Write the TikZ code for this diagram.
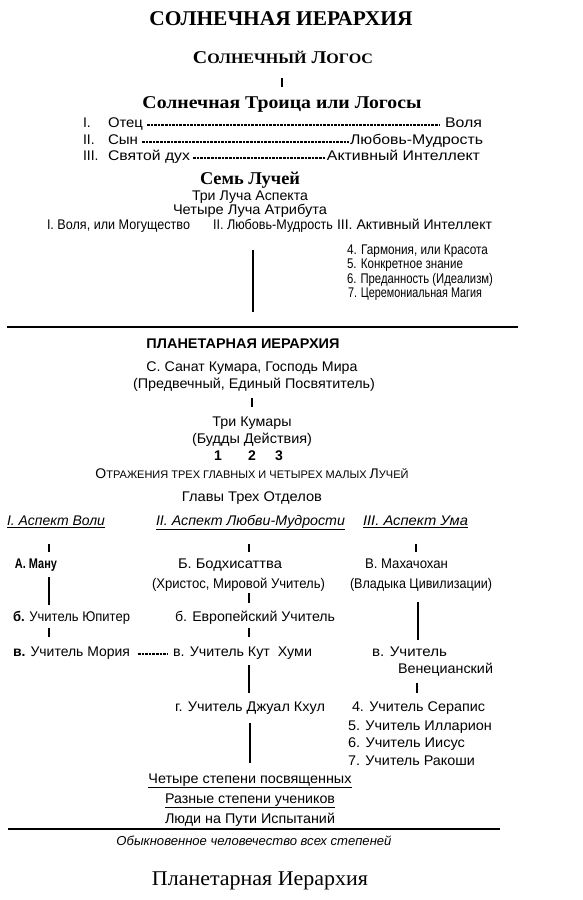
\documentclass[tikz,border=0pt]{standalone}
\usepackage{fontspec}
\usepackage{graphicx}
\setmainfont{Liberation Serif}
\setsansfont{Liberation Sans}
\newcommand{\fw}[2]{\resizebox{#1pt}{\height}{#2}}
\newcommand{\bigsc}{\fontsize{18}{20}\selectfont}
\newcommand{\smsc}{\fontsize{14.5}{16}\selectfont}
\newcommand{\bigsn}{\fontsize{14}{16}\selectfont}
\newcommand{\smsn}{\fontsize{11}{13}\selectfont}
\begin{document}
\begin{tikzpicture}[x=1pt,y=-1pt,
  every node/.style={inner sep=0pt, outer sep=0pt},
  sans/.style={font=\sffamily\fontsize{14}{16}\selectfont},
  sansb/.style={font=\sffamily\bfseries\fontsize{14}{16}\selectfont},
  sansi/.style={font=\sffamily\itshape\fontsize{14}{16}\selectfont},
  serifb/.style={font=\rmfamily\bfseries\fontsize{18}{20}\selectfont},
  vline/.style={line width=1.4pt},
  hrule/.style={line width=1.8pt},
  leader/.style={line width=1.2pt, dash pattern=on 2.6pt off 1pt},
  lft/.style={anchor=mid west},
  rgt/.style={anchor=mid east},
  ctr/.style={anchor=mid}
]
\fill[white] (0,0) rectangle (583,900);
\useasboundingbox (0,0) rectangle (583,900);

% ---------- Solar hierarchy ----------
\node[serifb, ctr, font=\rmfamily\bfseries\fontsize{21}{23}\selectfont] (title) at (281,23) {\fw{263}{СОЛНЕЧНАЯ ИЕРАРХИЯ}};
\node[serifb, ctr] (logos) at (283,61) {\fw{180}{{\bigsc С}{\smsc ОЛНЕЧНЫЙ} {\bigsc Л}{\smsc ОГОС}}};
\coordinate (t1a) at (282,78); \coordinate (t1b) at (282,87);
\draw[vline] (t1a) -- (t1b);
\node[serifb, ctr] (trin) at (282,106) {\fw{279}{Солнечная Троица или Логосы}};

\node[sans, lft] (n1) at (83,125) {I.};
\node[sans, lft] (a1) at (108,125) {\fw{35}{Отец}};
\node[sans, rgt] (b1) at (482,125) {\fw{37}{Воля}};
\draw[leader, shorten <=4pt, shorten >=5pt] (a1.mid east) -- (b1.mid west);

\node[sans, lft] (n2) at (83,142) {II.};
\node[sans, lft] (a2) at (108,142) {\fw{30}{Сын}};
\node[sans, rgt] (b2) at (483,142) {\fw{133}{Любовь-Мудрость}};
\draw[leader, shorten <=4pt, shorten >=1pt] (a2.mid east) -- (b2.mid west);

\node[sans, lft] (n3) at (83,158) {III.};
\node[sans, lft] (a3) at (108,158) {\fw{82}{Святой дух}};
\node[sans, rgt] (b3) at (480,158) {\fw{153}{Активный Интеллект}};
\draw[leader, shorten <=3pt, shorten >=1pt] (a3.mid east) -- (b3.mid west);

\node[serifb, ctr] (sem) at (250,182) {\fw{100}{Семь Лучей}};
\node[sans, ctr] (tri) at (250,198) {\fw{116}{Три Луча Аспекта}};
\node[sans, ctr] (chet) at (250,212) {\fw{154}{Четыре Луча Атрибута}};
\node[sans, lft] (ray1) at (47,227) {\fw{143}{I. Воля, или Могущество}};
\node[sans, lft] (ray2) at (213,227) {\fw{120}{II. Любовь-Мудрость}};
\node[sans, lft] (ray3) at (337,227) {\fw{155}{III. Активный Интеллект}};
\node[sans, lft] (ray4) at (347,252) {\fw{141}{4. Гармония, или Красота}};
\node[sans, lft] (ray5) at (347,266) {\fw{116}{5. Конкретное знание}};
\node[sans, lft] (ray6) at (347,281) {\fw{146}{6. Преданность (Идеализм)}};
\node[sans, lft] (ray7) at (348,295) {\fw{134}{7. Церемониальная Магия}};
\coordinate (r2a) at (253,250); \coordinate (r2b) at (253,312);
\draw[vline] (r2a) -- (r2b);

\coordinate (h1a) at (7,327); \coordinate (h1b) at (518,327);
\draw[hrule] (h1a) -- (h1b);

% ---------- Planetary hierarchy ----------
\node[sansb, ctr] (plan) at (243,346) {\fw{193}{ПЛАНЕТАРНАЯ ИЕРАРХИЯ}};
\node[sans, ctr] (sanat) at (252,369) {\fw{211}{С. Санат Кумара, Господь Мира}};
\node[sans, ctr] (pred) at (254,386) {\fw{242}{(Предвечный, Единый Посвятитель)}};
\coordinate (t2a) at (252,398); \coordinate (t2b) at (252,407);
\draw[vline] (t2a) -- (t2b);
\node[sans, ctr] (kum) at (252,424) {\fw{79}{Три Кумары}};
\node[sans, ctr] (budd) at (252,441) {\fw{120}{(Будды Действия)}};
\node[sansb, ctr] (k1) at (218,458) {1};
\node[sansb, ctr] (k2) at (252,458) {2};
\node[sansb, ctr] (k3) at (279,458) {3};
\node[sans, ctr] (otr) at (252,476) {\fw{313}{{\bigsn О}{\smsn ТРАЖЕНИЯ ТРЕХ ГЛАВНЫХ И ЧЕТЫРЕХ МАЛЫХ }{\bigsn Л}{\smsn УЧЕЙ}}};
\node[sans, ctr] (glav) at (252,499) {\fw{140}{Главы Трех Отделов}};

\node[sansi, lft] (asp1) at (7,523) {\fw{98}{\underline{I. Аспект Воли}}};
\node[sansi, lft] (asp2) at (156,523) {\fw{189}{\underline{II. Аспект Любви-Мудрости}}};
\node[sansi, lft] (asp3) at (363,523) {\fw{105}{\underline{III. Аспект Ума}}};
\coordinate (t3a) at (49,544); \coordinate (t3b) at (49,552);
\coordinate (t4a) at (249,544); \coordinate (t4b) at (249,552);
\coordinate (t5a) at (416,544); \coordinate (t5b) at (416,552);
\draw[vline] (t3a) -- (t3b);
\draw[vline] (t4a) -- (t4b);
\draw[vline] (t5a) -- (t5b);

\node[sansb, lft] (manu) at (15,566) {\fw{42}{А. Ману}};
\node[sans, lft] (bodh) at (178,566) {\fw{104}{Б. Бодхисаттва}};
\node[sans, lft] (mah) at (365,566) {\fw{83}{В. Махачохан}};
\node[sans, lft] (hrist) at (152,586) {\fw{173}{(Христос, Мировой Учитель)}};
\node[sans, lft] (vlad) at (350,586) {\fw{142}{(Владыка Цивилизации)}};
\coordinate (l1a) at (49,577); \coordinate (l1b) at (49,605);
\coordinate (t6a) at (249,593); \coordinate (t6b) at (249,603);
\coordinate (l2a) at (418,602); \coordinate (l2b) at (418,640);
\draw[vline] (l1a) -- (l1b);
\draw[vline] (t6a) -- (t6b);
\draw[vline] (l2a) -- (l2b);

\node[sans, lft] (yup) at (13,619) {\fw{117}{\textbf{б.} Учитель Юпитер}};
\node[sans, lft] (evr) at (175,619) {\fw{160}{б. Европейский Учитель}};
\coordinate (t7a) at (49,628); \coordinate (t7b) at (49,637);
\coordinate (t8a) at (249,628); \coordinate (t8b) at (249,637);
\draw[vline] (t7a) -- (t7b);
\draw[vline] (t8a) -- (t8b);

\node[sans, lft] (mor) at (13,654) {\fw{117}{\textbf{в.} Учитель Мория}};
\node[sans, lft] (kut) at (173,654) {\fw{139}{в. Учитель Кут~~Хуми}};
\draw[leader, shorten <=8pt, shorten >=6pt] (mor.mid east) -- (kut.mid west);
\node[sans, lft] (uch) at (372,654) {\fw{75}{в. Учитель}};
\node[sans, lft] (ven) at (398,671) {\fw{95}{Венецианский}};
\coordinate (l3a) at (249,665); \coordinate (l3b) at (249,693);
\coordinate (t9a) at (417,683); \coordinate (t9b) at (417,693);
\draw[vline] (l3a) -- (l3b);
\draw[vline] (t9a) -- (t9b);

\node[sans, lft] (dzh) at (175,709) {\fw{150}{г. Учитель Джуал Кхул}};
\node[sans, lft] (ser) at (352,709) {\fw{133}{4. Учитель Серапис}};
\node[sans, lft] (ill) at (348,728) {\fw{144}{5. Учитель Илларион}};
\node[sans, lft] (iis) at (348,745) {\fw{117}{6. Учитель Иисус}};
\node[sans, lft] (rak) at (348,763) {\fw{127}{7. Учитель Ракоши}};
\coordinate (l4a) at (250,723); \coordinate (l4b) at (250,763);
\draw[vline] (l4a) -- (l4b);

\node[sans, ctr] (chst) at (250,781) {\fw{203}{\underline{Четыре степени посвященных}}};
\node[sans, ctr] (razn) at (250,801) {\fw{170}{\underline{Разные степени учеников}}};
\node[sans, ctr] (lyud) at (250,821) {\fw{170}{Люди на Пути Испытаний}};
\coordinate (h2a) at (8,829); \coordinate (h2b) at (500,829);
\draw[hrule] (h2a) -- (h2b);
\node[sansi, ctr, font=\sffamily\itshape\fontsize{13}{15}\selectfont] (obyk) at (254,843) {\fw{275}{Обыкновенное человечество всех степеней}};

\node[ctr, font=\rmfamily\fontsize{21}{23}\selectfont] (capt) at (260,883) {\fw{216}{Планетарная Иерархия}};
\end{tikzpicture}
\end{document}
